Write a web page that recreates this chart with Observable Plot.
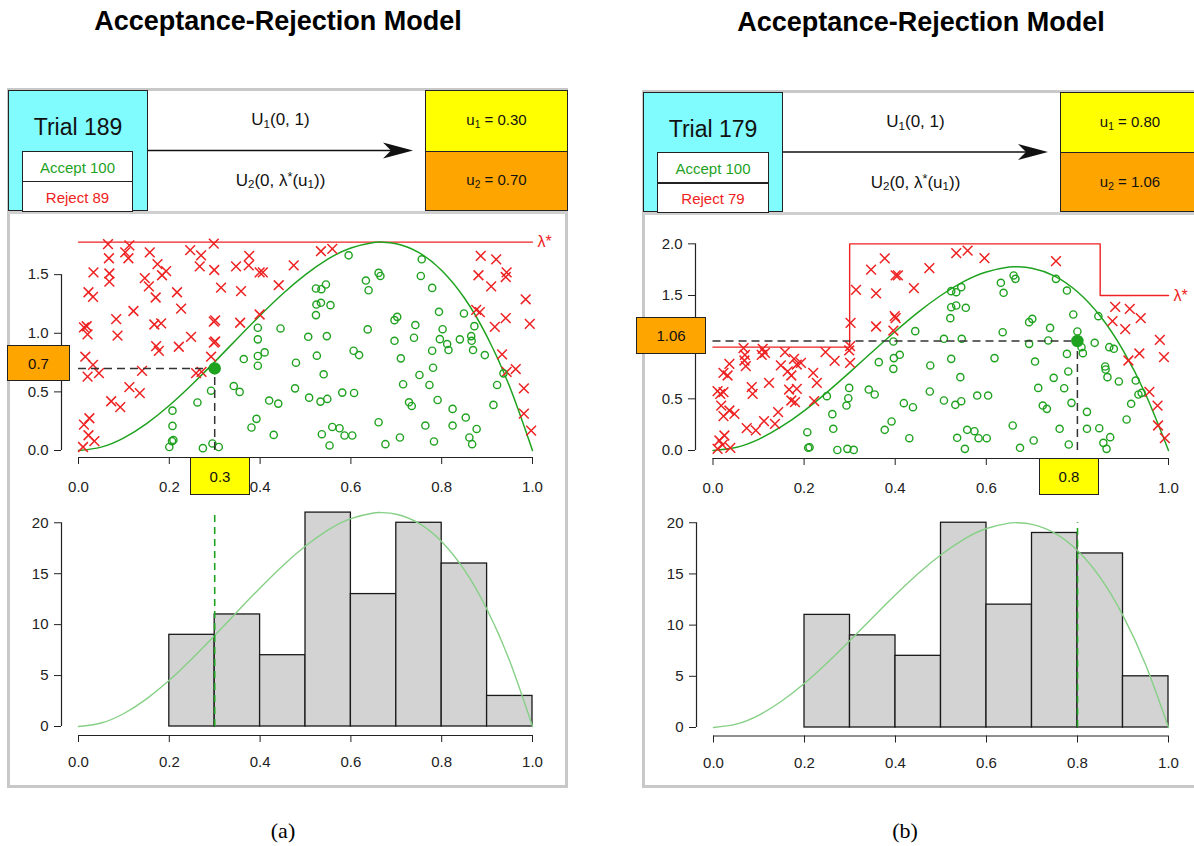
<!DOCTYPE html>
<html><head><meta charset="utf-8">
<script src="https://cdn.jsdelivr.net/npm/d3@7"></script>
<script src="https://cdn.jsdelivr.net/npm/@observablehq/plot@0.6"></script>
<style>
html,body{margin:0;padding:0;background:#fff;}
#root{position:relative;width:1194px;height:846px;overflow:hidden;font-family:"Liberation Sans",Arial,Helvetica,sans-serif;color:#111;}
#root sub{font-size:68%;vertical-align:-0.25em;}
#root sup{font-size:75%;vertical-align:0.35em;}
</style></head>
<body><div id="root"></div>
<script>
// ---------------- DATA ----------------
const titleText = "Acceptance-Rejection Model";
const captions = ["(a)", "(b)"];
const xTicks = [0, 0.2, 0.4, 0.6, 0.8, 1.0];
const scatterYTicksA = [0, 0.5, 1.0, 1.5];
const scatterYTicksB = [0, 0.5, 1.0, 1.5, 2.0];
const histYTicks = [0, 5, 10, 15, 20];

// target density (Beta(3,2))
const densityX = [0, 0.05, 0.1, 0.15, 0.2, 0.25, 0.3, 0.35, 0.4, 0.45, 0.5, 0.55, 0.6, 0.65, 0.667, 0.7, 0.75, 0.8, 0.85, 0.9, 0.95, 1.0];
const densityY = [0, 0.029, 0.108, 0.230, 0.384, 0.563, 0.756, 0.956, 1.152, 1.337, 1.5, 1.634, 1.728, 1.775, 1.778, 1.764, 1.688, 1.536, 1.301, 0.972, 0.542, 0];

// majorizing functions lambda*
const lambdaXA = [0, 1];
const lambdaYA = [1.778, 1.778];
const lambdaXB = [0, 0.3, 0.3, 0.85, 0.85, 1.0];
const lambdaYB = [1.0, 1.0, 2.0, 2.0, 1.5, 1.5];

// histogram of accepted values
const histBreaks = [0.2, 0.3, 0.4, 0.5, 0.6, 0.7, 0.8, 0.9, 1.0];
const histCountsA = [9, 11, 7, 21, 13, 20, 16, 3];
const histCountsB = [11, 9, 7, 20, 12, 19, 17, 5];

// trial summaries
const trialA = {trial: 189, accept: 100, reject: 89, u1: 0.30, u2: 0.70, u1Label: "0.3", u2Label: "0.7"};
const trialB = {trial: 179, accept: 100, reject: 79, u1: 0.80, u2: 1.06, u1Label: "0.8", u2Label: "1.06"};

// panel (a) points
const rejectA = [[0.065,1.76],[0.112,1.75],[0.103,1.69],[0.110,1.64],[0.067,1.64],[0.157,1.69],[0.298,1.765],[0.246,1.71],[0.270,1.665],[0.267,1.57],[0.299,1.54],[0.033,1.52],[0.068,1.51],[0.068,1.44],[0.174,1.59],[0.184,1.495],[0.193,1.53],[0.146,1.47],[0.155,1.40],[0.022,1.35],[0.032,1.31],[0.170,1.305],[0.217,1.35],[0.314,1.39],[0.347,1.57],[0.375,1.58],[0.376,1.66],[0.358,1.36],[0.121,1.19],[0.226,1.21],[0.083,1.12],[0.012,1.05],[0.020,0.99],[0.018,1.06],[0.086,0.98],[0.167,1.075],[0.182,1.085],[0.298,1.10],[0.301,1.11],[0.356,1.09],[0.248,0.97],[0.171,0.89],[0.177,0.85],[0.221,0.885],[0.298,0.92],[0.301,0.93],[0.015,0.80],[0.032,0.73],[0.020,0.63],[0.045,0.66],[0.140,0.68],[0.259,0.66],[0.271,0.67],[0.292,0.80],[0.112,0.54],[0.135,0.49],[0.072,0.42],[0.092,0.37],[0.024,0.275],[0.012,0.22],[0.022,0.13],[0.035,0.08],[0.010,0.03],
[0.534,1.70],[0.559,1.72],[0.399,1.52],[0.406,1.52],[0.474,1.58],[0.441,1.41],[0.399,1.16],[0.886,1.66],[0.920,1.63],[0.943,1.52],[0.941,1.48],[0.881,1.495],[0.909,1.40],[0.985,1.29],[0.994,1.08],[0.876,1.20],[0.884,1.18],[0.917,1.055],[0.941,1.13],[0.933,0.82],[0.943,0.67],[0.963,0.695],[0.981,0.53],[0.981,0.315],[0.997,0.17]];
const acceptA = [[0.364,0.78],[0.342,0.55],[0.355,0.50],[0.292,0.51],[0.262,0.41],[0.207,0.34],[0.207,0.21],[0.209,0.09],[0.206,0.08],[0.200,0.03],[0.274,0.02],[0.295,0.06],[0.309,0.03],
[0.595,1.665],[0.756,1.631],[0.661,1.515],[0.665,1.489],[0.633,1.45],[0.639,1.367],[0.754,1.489],[0.779,1.387],[0.523,1.382],[0.535,1.376],[0.545,1.416],[0.524,1.245],[0.534,1.26],[0.555,1.24],[0.523,1.155],[0.395,1.047],[0.395,0.948],[0.445,1.041],[0.395,0.806],[0.410,0.837],[0.395,0.723],[0.506,0.97],[0.547,0.976],[0.637,1.033],[0.696,1.112],[0.702,1.14],[0.742,1.07],[0.696,0.936],[0.739,0.962],[0.794,1.183],[0.802,1.035],[0.796,0.95],[0.812,0.908],[0.815,0.857],[0.840,0.948],[0.849,1.169],[0.872,1.061],[0.865,0.976],[0.866,0.936],[0.869,0.857],[0.895,0.814],[0.779,0.851],[0.781,0.706],[0.751,0.644],[0.773,0.559],[0.715,0.565],[0.710,0.786],[0.606,0.851],[0.618,0.814],[0.525,0.809],[0.479,0.749],[0.540,0.65],[0.477,0.53],[0.508,0.451],[0.533,0.417],[0.548,0.44],[0.581,0.494],[0.607,0.491],[0.420,0.426],[0.440,0.40],[0.392,0.27],[0.381,0.196],[0.430,0.133],[0.536,0.139],[0.559,0.201],[0.575,0.19],[0.586,0.128],[0.603,0.128],[0.553,0.043],[0.661,0.241],[0.676,0.054],[0.708,0.111],[0.728,0.411],[0.734,0.38],[0.764,0.213],[0.783,0.077],[0.791,0.431],[0.824,0.355],[0.824,0.213],[0.853,0.281],[0.861,0.111],[0.867,0.054],[0.877,0.184],[0.914,0.389],[0.922,0.559],[0.936,0.658]];

// panel (b) points
const rejectB = [[0.377,1.86],[0.347,1.75],[0.314,1.555],[0.358,1.52],[0.302,1.235],[0.358,1.20],[0.301,1.01],[0.299,0.968],[0.301,0.848],[0.267,0.868],[0.247,0.952],[0.067,0.99],[0.070,0.926],[0.069,0.871],[0.072,0.816],[0.109,0.984],[0.114,0.945],[0.107,0.926],[0.158,0.952],[0.178,0.887],[0.184,0.832],[0.193,0.848],[0.149,0.823],[0.164,0.765],[0.172,0.726],[0.036,0.839],[0.023,0.752],[0.032,0.726],[0.123,0.655],[0.220,0.752],[0.228,0.655],[0.085,0.613],[0.087,0.548],[0.167,0.59],[0.184,0.597],[0.172,0.484],[0.180,0.468],[0.222,0.477],[0.010,0.574],[0.016,0.548],[0.023,0.565],[0.018,0.435],[0.036,0.387],[0.023,0.332],[0.047,0.355],[0.143,0.371],[0.112,0.284],[0.136,0.258],[0.074,0.216],[0.094,0.194],[0.025,0.145],[0.014,0.097],[0.021,0.055],[0.010,0.016],[0.038,0.026],
[0.401,1.694],[0.406,1.694],[0.475,1.765],[0.441,1.571],[0.534,1.91],[0.559,1.935],[0.596,1.861],[0.753,1.832],[0.399,1.30],[0.401,1.281],[0.396,1.161],[0.883,1.39],[0.915,1.371],[0.939,1.281],[0.877,1.252],[0.905,1.174],[0.981,1.071],[0.990,0.903],[0.936,0.939],[0.912,0.871],[0.958,0.568],[0.976,0.435],[0.977,0.242],[0.992,0.119]];
const acceptB = [[0.364,0.855],[0.299,0.606],[0.342,0.59],[0.355,0.542],[0.297,0.506],[0.293,0.435],[0.250,0.526],[0.262,0.352],[0.264,0.21],[0.207,0.177],[0.209,0.026],[0.212,0.032],[0.273,0.005],[0.295,0.016],[0.309,0.006],
[0.396,1.055],[0.397,0.894],[0.396,0.79],[0.410,0.926],[0.444,1.155],[0.392,0.281],[0.377,0.20],[0.431,0.119],[0.477,0.823],[0.476,0.571],[0.507,0.484],[0.419,0.458],[0.439,0.419],[0.523,0.887],[0.543,0.71],[0.507,1.081],[0.546,1.081],[0.521,1.281],[0.523,1.387],[0.534,1.403],[0.555,1.381],[0.523,1.542],[0.534,1.532],[0.545,1.581],[0.632,1.623],[0.638,1.526],[0.660,1.694],[0.664,1.661],[0.636,1.145],[0.618,0.894],[0.694,1.242],[0.701,1.274],[0.740,1.187],[0.736,1.065],[0.694,1.032],[0.707,0.861],[0.753,1.661],[0.777,1.548],[0.791,1.316],[0.800,1.152],[0.809,1.0],[0.812,0.942],[0.777,0.935],[0.780,0.765],[0.748,0.703],[0.771,0.603],[0.787,0.461],[0.714,0.606],[0.724,0.435],[0.733,0.403],[0.658,0.242],[0.704,0.097],[0.674,0.026],[0.761,0.21],[0.781,0.058],[0.821,0.374],[0.821,0.21],[0.848,0.216],[0.857,0.074],[0.864,0.016],[0.872,0.129],[0.838,1.042],[0.846,1.30],[0.870,1.0],[0.880,0.984],[0.861,0.813],[0.862,0.784],[0.866,0.71],[0.891,0.668],[0.908,0.30],[0.918,0.452],[0.934,0.542],[0.941,0.558],[0.928,0.677],[0.580,0.532],[0.604,0.532],[0.545,0.477],[0.532,0.442],[0.558,0.20],[0.574,0.187],[0.536,0.123],[0.583,0.119],[0.601,0.119],[0.553,0.016]];

// ---------------- STYLE ----------------
const RED = "#ee2222", GREEN = "#1fa21f", LIGHTGREEN = "#86d086", CYAN = "#80fcff", YELLOW = "#ffff00", ORANGE = "#ffa500";
const FONT = "Liberation Sans, Arial, Helvetica, sans-serif";
const root = document.getElementById("root");

function div(style, html = "") {
  const d = document.createElement("div");
  Object.assign(d.style, {position: "absolute", boxSizing: "border-box"}, style);
  d.innerHTML = html;
  root.appendChild(d);
  return d;
}
function label(x, y, html, style = {}) {
  return div(Object.assign({left: x + "px", top: y + "px", transform: "translate(-50%,-50%)", whiteSpace: "nowrap", lineHeight: "1"}, style), html);
}
function boxLabel(l, t, w, h, bg, html, fs = 15) {
  return div({left: l + "px", top: t + "px", width: w + "px", height: h + "px", background: bg, border: "1.5px solid #222",
    display: "flex", alignItems: "center", justifyContent: "center", fontSize: fs + "px", zIndex: 5}, "<span>" + html + "</span>");
}
const toPts = arr => arr.map(([x, y]) => ({x, y}));
const dens = densityX.map((x, i) => ({x, y: densityY[i]}));
const maxDens = d3.max(densityY);

function axisMarks(yTicks, yFmt, il, ib, xPad, hideX = [], hideY = []) {
  return [
    Plot.axisX({ticks: xTicks, tickFormat: d => hideX.includes(d) ? "" : d.toFixed(1), tickSize: 7, tickPadding: xPad, label: null}),
    Plot.axisY({ticks: yTicks, tickFormat: d => hideY.includes(d) ? "" : yFmt(d), tickSize: 7, tickPadding: 6, label: null}),
    Plot.ruleY([0], {x1: 0, x2: 1, dy: ib, stroke: "#222", strokeWidth: 1.2}),
    Plot.ruleX([0], {y1: 0, y2: yTicks[yTicks.length - 1], dx: -il, stroke: "#222", strokeWidth: 1.2})
  ];
}

function scatter(cfg) {
  const lam = cfg.lambdaX.map((x, i) => ({x, y: cfg.lambdaY[i]}));
  const t = cfg.trial;
  const svg = Plot.plot({
    width: cfg.w, height: cfg.h,
    marginLeft: cfg.ml, marginRight: cfg.mr, marginTop: cfg.mt, marginBottom: cfg.mb,
    x: {domain: [0, 1], insetLeft: cfg.il},
    y: {domain: [0, cfg.ymax], insetBottom: cfg.ib},
    style: {fontSize: "15px", fontFamily: FONT, color: "#222", background: "transparent", overflow: "visible"},
    marks: [
      ...axisMarks(cfg.yTicks, d => d.toFixed(1), cfg.il, cfg.ib, 17, cfg.hideX || [], cfg.hideY || []),
      Plot.line(lam, {x: "x", y: "y", stroke: RED, strokeWidth: 1.4}),
      Plot.text([lam[lam.length - 1]], {x: "x", y: "y", text: () => "λ*", dx: 5, textAnchor: "start", fill: RED, fontSize: 16}),
      Plot.line(dens, {x: "x", y: "y", curve: "natural", stroke: GREEN, strokeWidth: 1.5}),
      Plot.dot(toPts(cfg.reject), {x: "x", y: "y", symbol: "times", r: 4.5, stroke: RED, strokeWidth: 1.5, fill: "none"}),
      Plot.dot(toPts(cfg.accept), {x: "x", y: "y", symbol: "circle", r: 3.6, stroke: GREEN, strokeWidth: 1.4, fill: "none"}),
      Plot.ruleY([t.u2], {x1: 0, x2: t.u1, stroke: "#333", strokeWidth: 1.5, strokeDasharray: "8,5"}),
      Plot.ruleX([t.u1], {y1: 0, y2: t.u2, stroke: "#333", strokeWidth: 1.5, strokeDasharray: "8,5"}),
      Plot.dot([{x: t.u1, y: t.u2}], {x: "x", y: "y", r: 5.5, fill: GREEN, stroke: GREEN})
    ]
  });
  Object.assign(svg.style, {position: "absolute", left: cfg.left + "px", top: cfg.top + "px"});
  root.appendChild(svg);
}

function histogram(cfg) {
  const bins = cfg.counts.map((n, i) => ({x1: histBreaks[i], x2: histBreaks[i + 1], n}));
  const maxN = d3.max(cfg.counts);
  const svg = Plot.plot({
    width: cfg.w, height: cfg.h,
    marginLeft: cfg.ml, marginRight: cfg.mr, marginTop: cfg.mt, marginBottom: cfg.mb,
    x: {domain: [0, 1], insetLeft: cfg.il},
    y: {domain: [0, cfg.ymax], insetBottom: cfg.ib},
    style: {fontSize: "15px", fontFamily: FONT, color: "#222", background: "transparent", overflow: "visible"},
    marks: [
      ...axisMarks(histYTicks, d => String(d), cfg.il, cfg.ib, 14),
      Plot.rectY(bins, {x1: "x1", x2: "x2", y: "n", fill: "#d3d3d3", stroke: "#1a1a1a", strokeWidth: 1.3}),
      Plot.line(dens, {x: "x", y: d => d.y * maxN / maxDens, curve: "natural", stroke: LIGHTGREEN, strokeWidth: 1.4}),
      Plot.ruleX([cfg.u1], {y1: 0, y2: maxN, stroke: GREEN, strokeWidth: 1.6, strokeDasharray: "7,5"})
    ]
  });
  Object.assign(svg.style, {position: "absolute", left: cfg.left + "px", top: cfg.top + "px"});
  root.appendChild(svg);
}

function header(h, t) {
  div({left: h.cx + "px", top: h.top + "px", width: h.cw + "px", height: h.h + "px", background: CYAN, border: "1.5px solid #222", zIndex: 3});
  label(h.cx + h.cw / 2, h.top + 37, "Trial " + t.trial, {fontSize: "23px", zIndex: 4});
  div({left: h.ix + "px", top: (h.top + h.h / 2) + "px", width: h.iw + "px", height: (h.h / 2 + 1) + "px", background: "#fff", border: "1.5px solid #222", zIndex: 4});
  div({left: h.ix + "px", top: (h.top + h.h * 3 / 4) + "px", width: h.iw + "px", height: "1.5px", background: "#222", zIndex: 5});
  label(h.ix + h.iw / 2, h.top + h.h * 5 / 8 + 1, "Accept " + t.accept, {fontSize: "15px", color: GREEN, zIndex: 5});
  label(h.ix + h.iw / 2, h.top + h.h * 7 / 8 + 1, "Reject " + t.reject, {fontSize: "15px", color: RED, zIndex: 5});
  boxLabel(h.ux, h.top, h.uw, h.h / 2 + 1, YELLOW, "u<sub>1</sub> = " + t.u1.toFixed(2), 15);
  boxLabel(h.ux, h.top + h.h / 2, h.uw, h.h / 2, ORANGE, "u<sub>2</sub> = " + t.u2.toFixed(2), 15);
  const mid = (h.cx + h.cw + h.arrowEnd) / 2;
  label(mid, h.top + 31, "U<sub>1</sub>(0, 1)", {fontSize: "17px"});
  label(mid, h.top + 91, "U<sub>2</sub>(0, λ<sup>*</sup>(u<sub>1</sub>))", {fontSize: "17px"});
  const ay = h.top + h.h / 2;
  const s = d3.create("svg").attr("width", 1194).attr("height", 846)
    .style("position", "absolute").style("left", "0px").style("top", "0px").style("z-index", 2);
  s.append("line").attr("x1", h.cx + h.cw).attr("x2", h.arrowEnd - 20).attr("y1", ay).attr("y2", ay).attr("stroke", "#111").attr("stroke-width", 1.5);
  const e = h.arrowEnd;
  s.append("path").attr("d", `M${e},${ay} L${e - 30},${ay - 8} L${e - 22},${ay} L${e - 30},${ay + 8} Z`).attr("fill", "#111");
  root.appendChild(s.node());
  div({left: h.px + "px", top: (h.top + h.h) + "px", width: h.pw + "px", height: "2.5px", background: "#cfcfcf", zIndex: 1});
}

// ---------------- LAYOUT ----------------
label(278, 21, titleText, {fontSize: "27px", fontWeight: "bold", color: "#000"});
label(921, 22, titleText, {fontSize: "27px", fontWeight: "bold", color: "#000"});
label(283, 831, captions[0], {fontSize: "22px", fontFamily: "Liberation Serif, Times New Roman, serif", color: "#000"});
label(905, 831, captions[1], {fontSize: "22px", fontFamily: "Liberation Serif, Times New Roman, serif", color: "#000"});

div({left: "7px", top: "88px", width: "561px", height: "700px", border: "3px solid #c8c8c8"});
div({left: "642px", top: "90px", width: "560px", height: "698px", border: "3px solid #c8c8c8"});

header({px: 8, pw: 559, top: 90, h: 121, cx: 8, cw: 140, ix: 22, iw: 111, ux: 425, uw: 143, arrowEnd: 413}, trialA);
header({px: 643, pw: 551, top: 92, h: 120, cx: 643, cw: 140, ix: 657, iw: 112, ux: 1060, uw: 140, arrowEnd: 1048}, trialB);

scatter({left: 0, top: 220, w: 567, h: 280, ml: 61, mr: 35, mt: 19, mb: 43, il: 17, ib: 7, ymax: 1.8,
  yTicks: scatterYTicksA, lambdaX: lambdaXA, lambdaY: lambdaYA, reject: rejectA, accept: acceptA, trial: trialA});
scatter({left: 643, top: 225, w: 551, h: 275, ml: 52, mr: 26, mt: 8, mb: 42, il: 17.5, ib: 8, ymax: 2.1,
  yTicks: scatterYTicksB, lambdaX: lambdaXB, lambdaY: lambdaYB, reject: rejectB, accept: acceptB, trial: trialB,
  hideX: [trialB.u1], hideY: [1.0]});

histogram({left: 0, top: 500, w: 567, h: 285, ml: 61, mr: 35, mt: 7, mb: 50, il: 17, ib: 9, ymax: 21.5, counts: histCountsA, u1: trialA.u1});
histogram({left: 643, top: 500, w: 551, h: 285, ml: 53, mr: 26, mt: 12, mb: 49.5, il: 17, ib: 8.5, ymax: 21, counts: histCountsB, u1: trialB.u1});

boxLabel(7, 345, 63, 36, ORANGE, trialA.u2Label, 15);
boxLabel(190, 457, 60, 38, YELLOW, trialA.u1Label, 15);
boxLabel(636, 317, 70, 37, ORANGE, trialB.u2Label, 15);
boxLabel(1039, 458, 60, 37, YELLOW, trialB.u1Label, 15);
</script></body></html>
